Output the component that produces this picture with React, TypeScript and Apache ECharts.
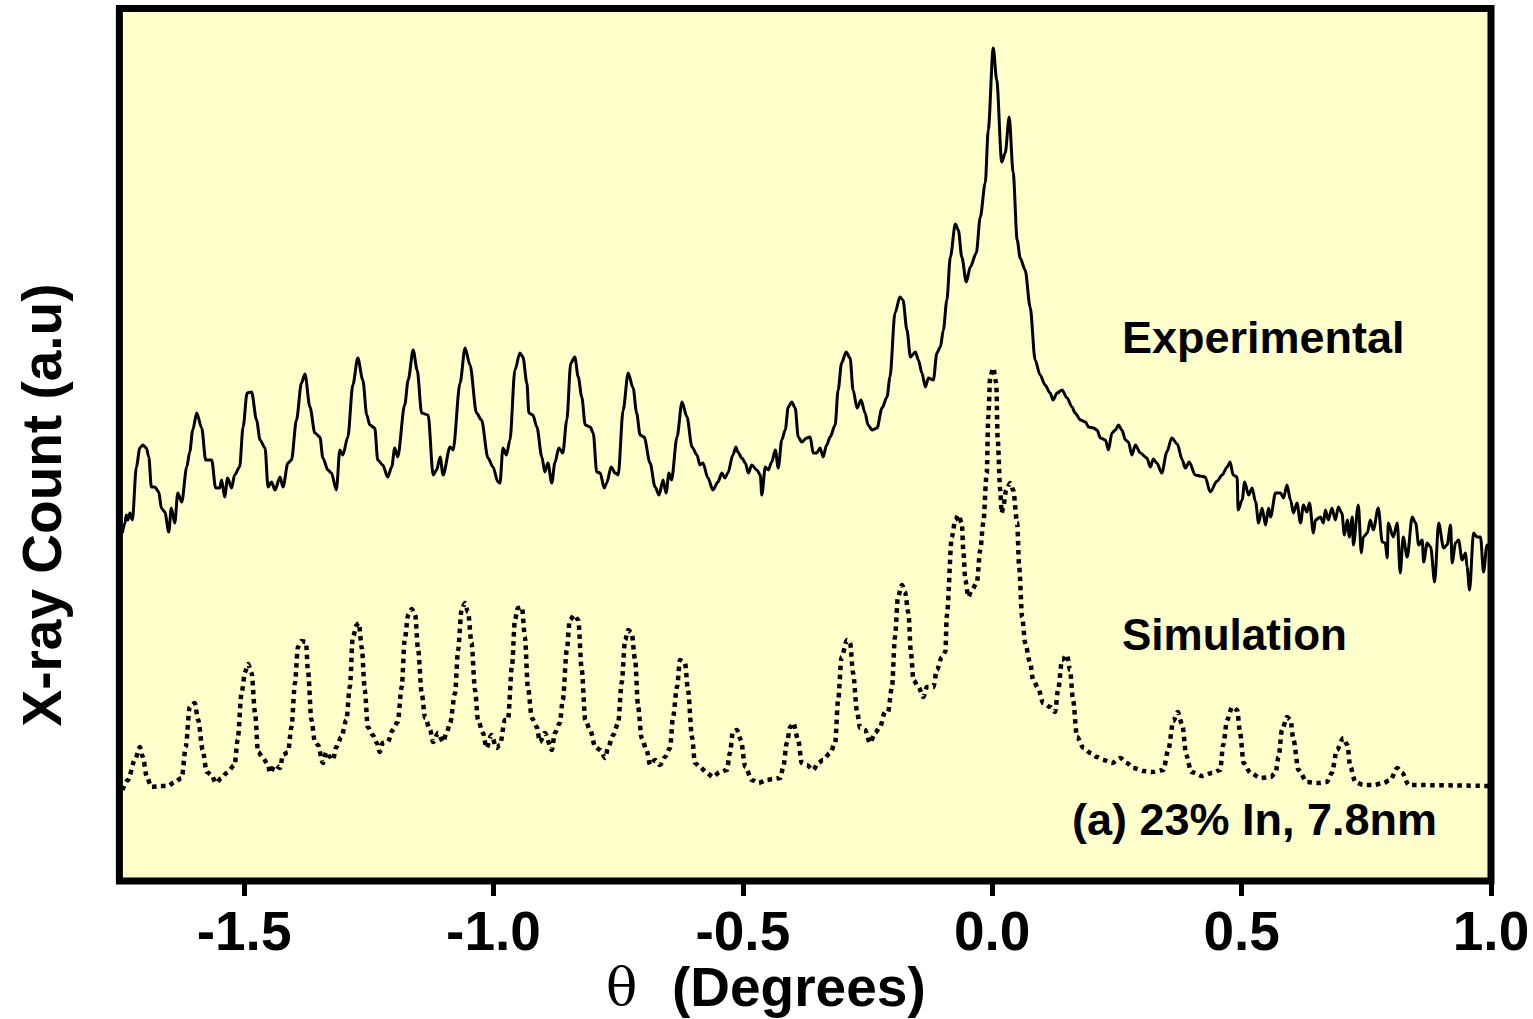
import React, { useEffect, useRef } from "react";
import * as echarts from "echarts";

// θ (degrees) and X-ray count (a.u.)
const expTheta = [
  -1.744, -1.739, -1.736, -1.733, -1.729, -1.724, -1.716, -1.709, -1.703, -1.696, -1.691, -1.686, -1.679, -1.671, -1.666, -1.659, -1.651, -1.646, -1.639, -1.633, -1.625, -1.615, -1.609, -1.603, -1.595, -1.585, -1.577, -1.565, -1.557, -1.549, -1.545, -1.539, -1.533, -1.525, -1.519, -1.509, -1.502, -1.494, -1.485, -1.475, -1.468, -1.458, -1.452, -1.445, -1.438, -1.428, -1.422, -1.412, -1.405, -1.395, -1.385, -1.378, -1.368, -1.358, -1.348, -1.342, -1.332, -1.325, -1.315, -1.308, -1.302, -1.292, -1.282, -1.272, -1.262, -1.254, -1.248, -1.238, -1.232, -1.222, -1.212, -1.204, -1.198, -1.192, -1.178, -1.171, -1.161, -1.153, -1.144, -1.131, -1.121, -1.114, -1.107, -1.101, -1.087, -1.081, -1.067, -1.057, -1.047, -1.034, -1.024, -1.011, -1.001, -0.991, -0.987, -0.981, -0.974, -0.967, -0.957, -0.947, -0.941, -0.933, -0.929, -0.921, -0.913, -0.903, -0.897, -0.891, -0.883, -0.877, -0.869, -0.861, -0.853, -0.845, -0.837, -0.830, -0.823, -0.816, -0.806, -0.800, -0.793, -0.786, -0.778, -0.773, -0.764, -0.756, -0.750, -0.740, -0.730, -0.720, -0.713, -0.706, -0.698, -0.686, -0.676, -0.668, -0.660, -0.654, -0.648, -0.643, -0.632, -0.622, -0.612, -0.602, -0.592, -0.586, -0.580, -0.570, -0.560, -0.550, -0.542, -0.536, -0.530, -0.520, -0.514, -0.510, -0.502, -0.495, -0.489, -0.482, -0.472, -0.465, -0.462, -0.455, -0.449, -0.442, -0.435, -0.429, -0.422, -0.415, -0.409, -0.402, -0.395, -0.389, -0.382, -0.372, -0.365, -0.359, -0.352, -0.345, -0.339, -0.332, -0.325, -0.315, -0.309, -0.302, -0.293, -0.285, -0.279, -0.271, -0.263, -0.255, -0.249, -0.241, -0.231, -0.221, -0.211, -0.205, -0.195, -0.185, -0.179, -0.171, -0.164, -0.154, -0.148, -0.141, -0.134, -0.128, -0.118, -0.111, -0.104, -0.098, -0.091, -0.084, -0.074, -0.068, -0.061, -0.052, -0.044, -0.032, -0.024, -0.014, -0.008, 0.002, 0.009, 0.019, 0.026, 0.034, 0.042, 0.050, 0.056, 0.066, 0.076, 0.086, 0.096, 0.106, 0.116, 0.122, 0.130, 0.140, 0.150, 0.160, 0.166, 0.177, 0.187, 0.193, 0.203, 0.210, 0.217, 0.227, 0.233, 0.240, 0.247, 0.253, 0.260, 0.267, 0.273, 0.280, 0.287, 0.297, 0.310, 0.317, 0.323, 0.330, 0.340, 0.350, 0.360, 0.371, 0.381, 0.387, 0.395, 0.407, 0.417, 0.427, 0.437, 0.451, 0.461, 0.471, 0.477, 0.483, 0.491, 0.493, 0.501, 0.506, 0.514, 0.521, 0.528, 0.534, 0.541, 0.548, 0.554, 0.558, 0.568, 0.578, 0.584, 0.591, 0.598, 0.604, 0.611, 0.618, 0.624, 0.631, 0.636, 0.644, 0.648, 0.658, 0.664, 0.668, 0.674, 0.681, 0.688, 0.694, 0.701, 0.706, 0.712, 0.716, 0.722, 0.724, 0.734, 0.740, 0.744, 0.752, 0.758, 0.764, 0.774, 0.782, 0.788, 0.792, 0.794, 0.804, 0.812, 0.818, 0.824, 0.832, 0.842, 0.849, 0.855, 0.862, 0.865, 0.872, 0.879, 0.887, 0.895, 0.905, 0.912, 0.919, 0.922, 0.929, 0.935, 0.942, 0.949, 0.952, 0.957, 0.965, 0.972, 0.979, 0.985, 0.992, 0.997,
];
const expCount = [
  348, 358, 366, 361, 368, 361, 414, 433, 436, 433, 424, 394, 394, 389, 373, 369, 349, 373, 358, 388, 379, 414, 429, 451, 468, 453, 421, 421, 393, 393, 401, 384, 403, 393, 406, 414, 454, 488, 489, 461, 441, 433, 394, 399, 391, 404, 394, 418, 421, 461, 498, 507, 474, 448, 444, 423, 411, 408, 391, 431, 426, 444, 496, 523, 501, 466, 456, 453, 421, 416, 404, 414, 433, 424, 476, 501, 531, 511, 468, 466, 406, 411, 424, 406, 434, 431, 498, 533, 516, 468, 461, 423, 414, 399, 398, 433, 426, 441, 511, 528, 524, 498, 468, 466, 454, 424, 409, 418, 398, 418, 433, 428, 461, 518, 524, 504, 484, 456, 454, 448, 409, 408, 393, 398, 414, 408, 406, 471, 508, 493, 468, 446, 444, 418, 394, 386, 401, 388, 408, 401, 444, 479, 464, 434, 426, 416, 418, 403, 391, 399, 408, 403, 408, 426, 434, 429, 423, 418, 408, 416, 411, 406, 386, 414, 411, 419, 431, 413, 441, 451, 474, 479, 473, 444, 439, 443, 444, 428, 428, 433, 424, 436, 444, 456, 491, 518, 529, 523, 491, 473, 481, 468, 456, 451, 453, 473, 484, 504, 568, 584, 581, 551, 524, 529, 521, 508, 494, 503, 501, 528, 534, 551, 581, 624, 657, 651, 624, 599, 614, 628, 664, 698, 751, 833, 801, 719, 728, 764, 708, 641, 623, 611, 574, 521, 506, 496, 488, 481, 488, 491, 483, 474, 468, 461, 459, 454, 453, 451, 443, 441, 431, 448, 451, 456, 451, 441, 439, 426, 436, 428, 423, 414, 422, 418, 408, 429, 443, 437, 421, 413, 419, 406, 405, 404, 389, 400, 406, 414, 419, 406, 404, 371, 381, 399, 386, 393, 379, 358, 373, 356, 373, 364, 388, 388, 383, 396, 381, 368, 378, 358, 376, 369, 378, 348, 361, 364, 358, 371, 361, 373, 361, 374, 368, 346, 361, 344, 364, 336, 376, 328, 344, 348, 361, 351, 373, 339, 338, 323, 358, 344, 358, 308, 344, 324, 364, 358, 336, 341, 319, 338, 334, 299, 358, 333, 336, 356, 318, 338, 341, 321, 328, 314, 291, 348, 344, 344, 309, 336, 331,
];

const simTheta = [
  -1.744, -1.733, -1.719, -1.709, -1.703, -1.695, -1.686, -1.669, -1.653, -1.639, -1.625, -1.617, -1.609, -1.599, -1.592, -1.583, -1.575, -1.565, -1.557, -1.545, -1.535, -1.519, -1.513, -1.505, -1.498, -1.492, -1.485, -1.478, -1.472, -1.462, -1.452, -1.448, -1.438, -1.428, -1.422, -1.412, -1.405, -1.398, -1.392, -1.385, -1.376, -1.372, -1.365, -1.358, -1.352, -1.342, -1.335, -1.328, -1.322, -1.315, -1.305, -1.295, -1.288, -1.282, -1.274, -1.270, -1.264, -1.258, -1.252, -1.242, -1.234, -1.228, -1.222, -1.212, -1.202, -1.192, -1.184, -1.178, -1.171, -1.164, -1.157, -1.151, -1.144, -1.137, -1.127, -1.121, -1.111, -1.101, -1.094, -1.087, -1.077, -1.071, -1.064, -1.057, -1.051, -1.044, -1.037, -1.031, -1.021, -1.014, -1.004, -0.994, -0.987, -0.977, -0.971, -0.963, -0.957, -0.951, -0.943, -0.937, -0.931, -0.923, -0.913, -0.907, -0.897, -0.883, -0.877, -0.867, -0.861, -0.853, -0.847, -0.838, -0.830, -0.823, -0.816, -0.806, -0.796, -0.786, -0.776, -0.770, -0.760, -0.750, -0.743, -0.736, -0.730, -0.723, -0.716, -0.710, -0.703, -0.693, -0.686, -0.676, -0.666, -0.656, -0.646, -0.640, -0.632, -0.626, -0.616, -0.610, -0.602, -0.596, -0.586, -0.572, -0.560, -0.546, -0.532, -0.526, -0.520, -0.512, -0.504, -0.495, -0.482, -0.469, -0.452, -0.439, -0.425, -0.419, -0.412, -0.405, -0.399, -0.389, -0.382, -0.372, -0.359, -0.349, -0.339, -0.325, -0.315, -0.309, -0.302, -0.291, -0.285, -0.279, -0.271, -0.265, -0.255, -0.245, -0.235, -0.225, -0.215, -0.209, -0.201, -0.195, -0.189, -0.181, -0.175, -0.168, -0.163, -0.158, -0.148, -0.138, -0.131, -0.118, -0.111, -0.101, -0.094, -0.091, -0.081, -0.074, -0.068, -0.061, -0.058, -0.054, -0.048, -0.041, -0.031, -0.024, -0.018, -0.011, -0.008, -0.004, 0.002, 0.008, 0.011, 0.016, 0.019, 0.022, 0.028, 0.036, 0.042, 0.050, 0.054, 0.060, 0.066, 0.076, 0.082, 0.092, 0.102, 0.116, 0.126, 0.132, 0.140, 0.150, 0.156, 0.162, 0.170, 0.183, 0.197, 0.210, 0.223, 0.240, 0.257, 0.270, 0.283, 0.303, 0.320, 0.343, 0.353, 0.363, 0.372, 0.381, 0.389, 0.399, 0.421, 0.441, 0.457, 0.463, 0.471, 0.481, 0.491, 0.497, 0.504, 0.518, 0.538, 0.558, 0.568, 0.574, 0.581, 0.591, 0.598, 0.604, 0.614, 0.631, 0.651, 0.671, 0.681, 0.691, 0.704, 0.712, 0.718, 0.728, 0.744, 0.764, 0.784, 0.798, 0.812, 0.822, 0.835, 0.997,
];
const simCount = [
  91, 101, 121, 134, 124, 104, 94, 95, 95, 99, 103, 134, 174, 178, 161, 131, 109, 106, 98, 103, 108, 116, 141, 188, 209, 217, 208, 168, 129, 123, 116, 108, 116, 113, 126, 129, 154, 198, 234, 240, 239, 211, 161, 139, 136, 118, 129, 124, 121, 134, 144, 161, 194, 244, 256, 258, 233, 191, 154, 146, 138, 129, 138, 139, 151, 159, 194, 241, 266, 272, 266, 231, 188, 163, 151, 139, 148, 139, 148, 158, 188, 231, 271, 278, 269, 238, 191, 161, 148, 133, 146, 133, 136, 161, 161, 214, 261, 273, 274, 244, 194, 163, 154, 139, 148, 131, 148, 158, 181, 231, 261, 266, 261, 211, 161, 151, 134, 131, 123, 134, 146, 158, 198, 241, 251, 248, 221, 174, 143, 131, 116, 121, 116, 124, 133, 164, 194, 221, 218, 191, 144, 118, 114, 108, 104, 109, 111, 128, 149, 151, 141, 114, 101, 98, 101, 102, 103, 114, 138, 154, 158, 141, 118, 116, 111, 118, 121, 128, 138, 181, 224, 241, 238, 208, 169, 153, 151, 138, 148, 154, 169, 169, 194, 244, 284, 296, 289, 268, 228, 201, 194, 184, 194, 194, 211, 224, 229, 266, 344, 361, 366, 358, 331, 301, 284, 291, 298, 331, 358, 408, 464, 504, 513, 498, 441, 391, 368, 374, 391, 398, 391, 358, 314, 264, 238, 218, 201, 193, 178, 174, 169, 191, 221, 226, 211, 181, 144, 133, 128, 124, 121, 118, 123, 118, 113, 110, 109, 111, 131, 160, 169, 156, 126, 109, 105, 108, 111, 136, 161, 174, 171, 148, 118, 108, 103, 104, 108, 124, 151, 164, 161, 141, 111, 99, 98, 99, 108, 131, 143, 136, 114, 99, 96, 96, 98, 101, 113, 108, 96, 95,
];

const xTicks = [-1.5, -1.0, -0.5, 0.0, 0.5, 1.0];

const seriesLabels = ["Experimental", "Simulation"];
const sampleNote = "(a) 23% In, 7.8nm";
const xTitleSymbol = "θ";
const xTitleText = "(Degrees)";
const yTitle = "X-ray Count (a.u)";

const FONT = "Liberation Sans, Arial, Helvetica, sans-serif";

export default function App() {
  const ref = useRef<HTMLDivElement>(null);

  useEffect(() => {
    if (!ref.current) return;
    const chart = echarts.init(ref.current, null, { renderer: "svg" });
    const expData = expTheta.map((t, i) => [t, expCount[i]]);
    const simData = simTheta.map((t, i) => [t, simCount[i]]);

    chart.setOption({
      animation: false,
      backgroundColor: "#ffffff",
      grid: {
        left: 119.4,
        right: 1533 - 1491,
        top: 8.5,
        bottom: 1019 - 881,
        show: true,
        backgroundColor: "#FFFFCC",
        borderColor: "#000000",
        borderWidth: 7,
        containLabel: false,
      },
      xAxis: {
        type: "value",
        min: -1.75,
        max: 1.0,
        axisLine: { show: false },
        splitLine: { show: false },
        axisTick: {
          show: true,
          inside: false,
          length: 15,
          customValues: xTicks,
          lineStyle: { color: "#000", width: 5 },
        },
        axisLabel: {
          show: true,
          customValues: xTicks,
          formatter: (v: number) => v.toFixed(1),
          fontFamily: FONT,
          fontWeight: "bold",
          fontSize: 55,
          lineHeight: 44,
          color: "#000",
          margin: 28,
          verticalAlign: "top",
        },
      },
      yAxis: {
        type: "value",
        min: 0,
        max: 872.5,
        show: false,
      },
      series: [
        {
          name: seriesLabels[0],
          type: "line",
          data: expData,
          symbol: "none",
          smooth: 0.3,
          smoothMonotone: "x",
          lineStyle: { color: "#000", width: 3, join: "round" },
          z: 3,
        },
        {
          name: seriesLabels[1],
          type: "line",
          data: simData,
          symbol: "none",
          smooth: 0.3,
          smoothMonotone: "x",
          lineStyle: { color: "#000", width: 4.5, type: [4.5, 4.5], cap: "butt" },
          z: 3,
        },
      ],
      graphic: [
        {
          type: "text",
          left: 1122,
          top: 341 - 26,
          style: {
            text: seriesLabels[0],
            font: `bold 45px ${FONT}`,
            fill: "#000",
          },
        },
        {
          type: "text",
          left: 1122,
          top: 637 - 25,
          style: {
            text: seriesLabels[1],
            font: `bold 44px ${FONT}`,
            fill: "#000",
          },
        },
        {
          type: "text",
          left: 1072,
          top: 823 - 26,
          style: {
            text: sampleNote,
            font: `bold 45px ${FONT}`,
            fill: "#000",
          },
        },
        {
          type: "text",
          x: 606,
          y: 987,
          style: {
            text: xTitleSymbol,
            font: `normal 52px "DejaVu Serif", "Liberation Serif", serif`,
            lineHeight: 48,
            fill: "#000",
            verticalAlign: "middle",
            align: "left",
          },
        },
        {
          type: "text",
          x: 672,
          y: 987,
          style: {
            text: xTitleText,
            font: `bold 55px ${FONT}`,
            lineHeight: 48,
            fill: "#000",
            verticalAlign: "middle",
            align: "left",
          },
        },
        {
          type: "text",
          x: 42,
          y: 505,
          rotation: Math.PI / 2,
          style: {
            text: yTitle,
            font: `bold 55px ${FONT}`,
            fill: "#000",
            verticalAlign: "middle",
            align: "center",
          },
        },
      ],
    });

    return () => chart.dispose();
  }, []);

  return (
    <div
      ref={ref}
      style={{ position: "fixed", left: 0, top: 0, width: 1533, height: 1019 }}
    />
  );
}
